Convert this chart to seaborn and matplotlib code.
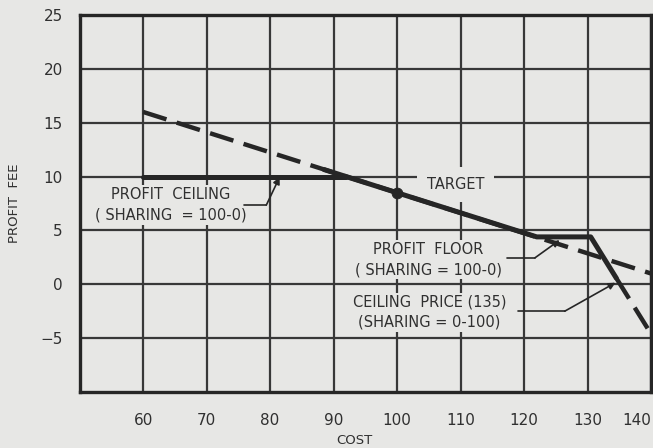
import numpy as np
import pandas as pd
import matplotlib
matplotlib.use('Agg')
import matplotlib.pyplot as plt
import seaborn as sns

# 비용 / 이익 곡선
ceiling_cost = [60, 92]
ceiling_fee = [10, 10]

incentive_cost = [88.5, 100, 122, 130.5, 134.5]
incentive_fee = [10.65, 8.5, 4.4, 4.4, 0.6]

linear_cost = [60, 140]
linear_fee = [16, 1.0]

loss_cost = [134.5, 140]
loss_fee = [0.6, -4.6]

target_cost = [100]
target_fee = [8.5]

x_ticks = [60, 70, 80, 90, 100, 110, 120, 130, 140]
y_ticks = [-5, 0, 5, 10, 15, 20, 25]

# 주석: (텍스트, 텍스트 위치, 지시선 시작, 꺾인 점, 화살표 끝)
notes = [
    ('PROFIT  CEILING\n( SHARING  = 100-0)', (64.3, 7.35), (75.9, 7.35), (79.4, 7.35), (81.5, 9.95)),
    ('PROFIT  FLOOR\n( SHARING = 100-0)', (104.9, 2.3), (117.3, 2.45), (121.7, 2.45), (125.6, 4.1)),
    ('CEILING  PRICE (135)\n(SHARING = 0-100)', (105.1, -2.6), (119.1, -2.5), (126.4, -2.5), (134.4, 0.15)),
]

bg = '#e7e7e5'
ink = '#262626'
grid_ink = '#383838'
txt_ink = '#303030'

sns.set_theme(style='white')
plt.rcParams['font.family'] = ['DejaVu Sans']

fig = plt.figure(figsize=(6.53, 4.48), dpi=100)
fig.patch.set_facecolor(bg)
ax = fig.add_axes([0.122, 0.125, 0.875, 0.8415])
ax.set_facecolor(bg)

ax.set_xlim(50, 140)
ax.set_ylim(-10, 25)
ax.set_xticks(x_ticks)
ax.set_yticks(y_ticks)
ax.set_yticklabels(['\u22125' if v < 0 else str(v) for v in y_ticks])
ax.grid(True, color=grid_ink, linewidth=1.6)
ax.set_axisbelow(True)
for s in ax.spines.values():
    s.set_color(ink)
    s.set_linewidth(2.4)
ax.tick_params(length=0, labelsize=11, colors=txt_ink)
ax.tick_params(axis='y', pad=12)
ax.tick_params(axis='x', pad=15)
# 마지막 눈금 글자는 그림 안쪽으로
ax.get_xticklabels()[-1].set_horizontalalignment('right')
ax.get_xticklabels()[-1].set_x(140.8)

dash = (5.5, 2.4)
sns.lineplot(x=linear_cost, y=linear_fee, ax=ax, color=ink, linewidth=3.2,
             linestyle=(0, dash), sort=False, zorder=3)
sns.lineplot(x=loss_cost, y=loss_fee, ax=ax, color=ink, linewidth=3.2,
             linestyle=(0, dash), sort=False, zorder=3)
sns.lineplot(x=ceiling_cost, y=ceiling_fee, ax=ax, color=ink, linewidth=3.6,
             sort=False, zorder=4)
sns.lineplot(x=incentive_cost, y=incentive_fee, ax=ax, color=ink, linewidth=3.6,
             sort=False, zorder=4)
sns.scatterplot(x=target_cost, y=target_fee, ax=ax, color=ink, s=60,
                edgecolor=ink, zorder=5)

# 글자 배경은 격자만 가리고 곡선은 가리지 않음
ax.text(109.2, 9.25, 'TARGET', ha='center', va='center', fontsize=10.5,
        color=txt_ink, zorder=2,
        bbox=dict(facecolor=bg, edgecolor='none', pad=7))

for txt, pos, start, corner, tip in notes:
    ax.text(pos[0], pos[1], txt, ha='center', va='center', fontsize=10.5,
            color=txt_ink, linespacing=1.45, zorder=2,
            bbox=dict(facecolor=bg, edgecolor='none', pad=1.5))
    ax.plot([start[0], corner[0]], [start[1], corner[1]], color=ink,
            linewidth=1.2, zorder=6)
    ax.annotate('', xy=tip, xytext=corner, zorder=6,
                arrowprops=dict(arrowstyle='-|>', color=ink, lw=1.2,
                                mutation_scale=10, shrinkA=0, shrinkB=0))

ax.set_xlabel('COST', fontsize=9.5, color=txt_ink)
ax.xaxis.set_label_coords(0.48, -0.112)
ax.set_ylabel('PROFIT  FEE', fontsize=9.5, color=txt_ink, labelpad=14)

fig.savefig('out.png', dpi=100, facecolor=bg)
